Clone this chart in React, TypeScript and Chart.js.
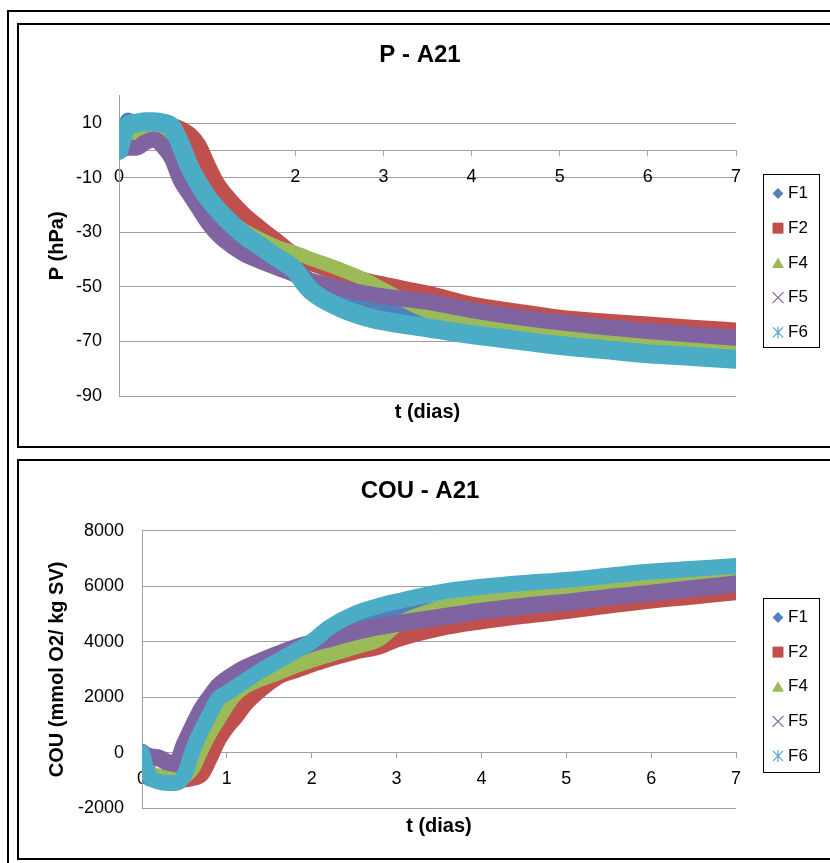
import React, { useEffect, useRef } from 'react';
import { Chart, registerables } from 'chart.js';

Chart.register(...registerables);

// ---------- data ----------
const SERIES_LABELS = ['F1', 'F2', 'F4', 'F5', 'F6'];
const X_TICKS = [0, 1, 2, 3, 4, 5, 6, 7];
const P_TICKS = [-90, -70, -50, -30, -10, 10];
const COU_TICKS = [-2000, 0, 2000, 4000, 6000, 8000];

const T_DAYS = [0, 0.05, 0.1, 0.2, 0.3, 0.4, 0.5, 0.6, 0.7, 0.8, 0.9, 1.0, 1.1, 1.2, 1.4, 1.6, 1.8, 2.0, 2.1, 2.2, 2.5, 2.8, 3.0, 3.5, 4.0, 4.5, 5.0, 5.5, 6.0, 6.5, 7.0];

const P_F1 = [0, 8, 11.5, 10, 10, 9.5, 8, 5, -1, -8, -13, -17, -21, -24, -30, -35, -39, -43, -45.5, -48, -52, -55, -57, -60.5, -63, -65.5, -67.3, -68.5, -69.5, -70.3, -71];
const P_F2 = [0, 7, 8.5, 9, 9.5, 9.5, 9.5, 9, 7.8, 5.8, 2, -5, -11.5, -16, -23, -28.5, -33.5, -38.5, -40, -41.5, -45, -47.8, -49.2, -52.5, -56.5, -59, -61.3, -62.7, -63.8, -65, -66];
const P_F4 = [0, 4, 6, 6.5, 6.5, 6.5, 6, 3, -3, -9, -14, -18, -21.5, -24.5, -29, -32.5, -35.5, -37.5, -38.8, -40, -43.5, -47.5, -51, -59, -63, -65.5, -68, -69.5, -71, -72, -73];
const P_F5 = [0, 0.5, 1, 1, 3, 4, 1.5, -3, -11, -16, -21, -26, -30, -33, -37.5, -40.5, -43, -45.5, -47, -48, -50.5, -52.5, -53.5, -55.5, -58.5, -61, -63, -64.7, -66.2, -67.5, -68.7];
const P_F6 = [0, 6, 9, 10, 10.5, 10.5, 10, 8.5, 2, -6, -12, -17, -21, -24.5, -30.5, -35, -39.5, -44, -48.5, -52, -57.5, -61, -62.5, -65, -67.5, -69.5, -71.5, -73, -74.5, -75.5, -76.5];

const COU_F1 = [0, -800, -1000, -1000, -1050, -1000, -900, -450, 300, 1000, 1600, 1950, 2250, 2500, 2850, 3150, 3450, 3700, 3900, 4100, 4500, 4800, 4950, 5250, 5480, 5650, 5800, 5950, 6100, 6230, 6350];
const COU_F2 = [0, -500, -800, -900, -950, -950, -950, -900, -750, -150, 500, 950, 1300, 1720, 2300, 2750, 2980, 3200, 3300, 3400, 3650, 3850, 4100, 4500, 4750, 4950, 5120, 5320, 5500, 5650, 5800];
const COU_F4 = [0, -450, -750, -850, -900, -900, -850, -550, 100, 700, 1200, 1700, 2100, 2350, 2650, 2870, 3120, 3330, 3430, 3520, 3800, 4100, 4600, 5200, 5450, 5650, 5850, 6000, 6150, 6300, 6450];
const COU_F5 = [0, -100, -150, -200, -350, -400, 300, 950, 1550, 2000, 2400, 2650, 2850, 3030, 3300, 3550, 3780, 3950, 4030, 4100, 4350, 4550, 4650, 4880, 5100, 5280, 5420, 5600, 5750, 5920, 6080];
const COU_F6 = [0, -600, -900, -1050, -1100, -1100, -800, 100, 800, 1400, 1950, 2150, 2350, 2550, 2950, 3300, 3650, 4000, 4250, 4500, 5000, 5300, 5450, 5780, 5980, 6120, 6230, 6380, 6530, 6630, 6730];

const P_SERIES = [P_F1, P_F2, P_F4, P_F5, P_F6];
const COU_SERIES = [COU_F1, COU_F2, COU_F4, COU_F5, COU_F6];

// ---------- styles ----------
const SERIES_COLORS = ['#4F81BD', '#C0504D', '#9BBB59', '#8064A2', '#4BACC6'];
const MARKERS = ['diamond', 'square', 'triangle', 'x', 'asterisk'];
const P_WIDTHS = [13, 16, 14, 16, 19];
const COU_WIDTHS = [13, 17, 15, 17, 16];
const GRID = '#a0a0a0';
const FONT = '"Liberation Sans", Arial, Helvetica, sans-serif';

function drawMarker(ctx: CanvasRenderingContext2D, kind: string, x: number, y: number, color: string) {
  ctx.save();
  ctx.fillStyle = color;
  ctx.strokeStyle = color;
  ctx.lineWidth = 1.2;
  ctx.beginPath();
  if (kind === 'diamond') {
    ctx.moveTo(x, y - 5.5); ctx.lineTo(x + 5.5, y); ctx.lineTo(x, y + 5.5); ctx.lineTo(x - 5.5, y); ctx.closePath(); ctx.fill();
  } else if (kind === 'square') {
    ctx.rect(x - 5.5, y - 5.5, 11, 11); ctx.fill();
  } else if (kind === 'triangle') {
    ctx.moveTo(x, y - 5.5); ctx.lineTo(x + 6, y + 5); ctx.lineTo(x - 6, y + 5); ctx.closePath(); ctx.fill();
  } else if (kind === 'x') {
    ctx.moveTo(x - 5.5, y - 5.5); ctx.lineTo(x + 5.5, y + 5.5); ctx.moveTo(x + 5.5, y - 5.5); ctx.lineTo(x - 5.5, y + 5.5); ctx.stroke();
  } else {
    ctx.moveTo(x - 5, y - 5); ctx.lineTo(x + 5, y + 5); ctx.moveTo(x + 5, y - 5); ctx.lineTo(x - 5, y + 5);
    ctx.moveTo(x, y - 6); ctx.lineTo(x, y + 6); ctx.stroke();
  }
  ctx.restore();
}

const boxLegend = {
  id: 'boxLegend',
  afterDraw(chart: any, _args: any, opts: any) {
    const ctx = chart.ctx as CanvasRenderingContext2D;
    ctx.save();
    ctx.fillStyle = '#ffffff';
    ctx.fillRect(opts.x, opts.y, opts.w, opts.h);
    ctx.strokeStyle = '#000000';
    ctx.lineWidth = 1;
    ctx.strokeRect(opts.x + 0.5, opts.y + 0.5, opts.w, opts.h);
    chart.data.datasets.forEach((ds: any, i: number) => {
      const cy = opts.first + i * opts.gap;
      drawMarker(ctx, MARKERS[i], opts.markerX, cy, SERIES_COLORS[i]);
      ctx.fillStyle = '#000000';
      ctx.font = '17px ' + FONT;
      ctx.textAlign = 'left';
      ctx.textBaseline = 'middle';
      ctx.fillText(ds.label, opts.textX, cy);
    });
    ctx.restore();
  },
};

function buildConfig(p: {
  series: number[][]; widths: number[]; ticks: number[]; min: number; max: number;
  title: string; yTitle: string; yWidth: number; titleBottom: number; xTitleH: number;
  padBottom: number; tickPad: number; legend: any;
}) {
  return {
    type: 'scatter',
    data: {
      datasets: SERIES_LABELS.map((label, i) => ({
        label,
        data: T_DAYS.map((t, k) => ({ x: t, y: p.series[i][k] })),
        // later series are painted over earlier ones (as in the original)
        order: SERIES_LABELS.length - i,
        borderColor: SERIES_COLORS[i],
        backgroundColor: SERIES_COLORS[i],
        borderWidth: p.widths[i],
        showLine: true,
        pointRadius: 0,
        pointHoverRadius: 0,
        fill: false,
        cubicInterpolationMode: 'monotone',
        borderCapStyle: 'round',
        borderJoinStyle: 'round',
        xAxisID: 'x',
        yAxisID: 'y',
      })),
    },
    options: {
      animation: false,
      responsive: false,
      events: [],
      layout: { padding: { left: 0, right: 9, top: 0, bottom: p.padBottom } },
      plugins: {
        legend: { display: false },
        tooltip: { enabled: false },
        title: {
          display: true,
          text: p.title,
          color: '#000',
          font: { family: FONT, size: 24, weight: 'bold' },
          padding: { top: 16, bottom: p.titleBottom },
        },
        boxLegend: p.legend,
      },
      scales: {
        x: {
          type: 'linear',
          position: { y: 0 },
          min: 0,
          max: 7,
          afterBuildTicks: (s: any) => { s.ticks = X_TICKS.map((v) => ({ value: v })); },
          grid: { display: true, drawOnChartArea: false, drawTicks: true, tickLength: 5, color: GRID },
          border: { display: true, color: GRID, width: 1 },
          ticks: { color: '#000', font: { family: FONT, size: 18 }, padding: 11, maxRotation: 0, autoSkip: false, callback: (v: any) => String(v) },
        },
        xTitle: {
          type: 'linear',
          axis: 'x',
          position: 'bottom',
          min: 0,
          max: 7,
          grid: { display: false },
          border: { display: false },
          ticks: { display: false },
          title: { display: true, text: 't (dias)', color: '#000', font: { family: FONT, size: 20, weight: 'bold' }, padding: 0 },
          afterFit: (s: any) => { s.height = p.xTitleH; },
        },
        y: {
          type: 'linear',
          position: 'left',
          min: p.min,
          max: p.max,
          afterBuildTicks: (s: any) => { s.ticks = p.ticks.map((v) => ({ value: v })); },
          grid: { color: GRID, drawTicks: false },
          border: { display: true, color: GRID, width: 1 },
          ticks: { color: '#000', font: { family: FONT, size: 18 }, padding: p.tickPad, callback: (v: any) => String(v) },
          title: { display: true, text: p.yTitle, color: '#000', font: { family: FONT, size: 20, weight: 'bold' }, padding: { top: 26, bottom: 0 } },
          afterFit: (s: any) => { s.width = p.yWidth; },
        },
        yPad: {
          type: 'linear',
          axis: 'y',
          position: 'right',
          grid: { display: false },
          border: { display: false },
          ticks: { display: false },
          afterFit: (s: any) => { s.width = 85; },
        },
      },
    },
    plugins: [boxLegend],
  } as any;
}

export default function App() {
  const topRef = useRef<HTMLCanvasElement | null>(null);
  const botRef = useRef<HTMLCanvasElement | null>(null);

  useEffect(() => {
    if (!topRef.current || !botRef.current) return;
    const c1 = new Chart(topRef.current, buildConfig({
      series: P_SERIES, widths: P_WIDTHS, ticks: P_TICKS, min: -90, max: 20,
      title: 'P - A21', yTitle: 'P (hPa)', yWidth: 100, titleBottom: 26, xTitleH: 28, padBottom: 22, tickPad: 17,
      legend: { x: 744, y: 149, w: 56, h: 173, first: 168.4, gap: 34.75, markerX: 759, textX: 769 },
    }));
    const c2 = new Chart(botRef.current, buildConfig({
      series: COU_SERIES, widths: COU_WIDTHS, ticks: COU_TICKS, min: -2000, max: 8000,
      title: 'COU - A21', yTitle: 'COU (mmol O2/ kg SV)', yWidth: 123, titleBottom: 25, xTitleH: 30, padBottom: 20, tickPad: 18,
      legend: { x: 744, y: 137, w: 56, h: 174, first: 156.5, gap: 34.6, markerX: 759, textX: 769 },
    }));
    return () => { c1.destroy(); c2.destroy(); };
  }, []);

  const frame = (left: number, top: number, width: number, height: number): React.CSSProperties => ({
    position: 'absolute', left, top, width, height, border: '2px solid #000', boxSizing: 'border-box',
  });

  return (
    <div style={{ position: 'fixed', left: 0, top: 0, width: 830, height: 863, overflow: 'hidden', background: '#fff' }}>
      <div style={frame(7, 10, 900, 900)} />
      <div style={frame(17, 23, 900, 425)} />
      <div style={frame(17, 459, 900, 401)} />
      <canvas ref={topRef} width={811} height={421} style={{ position: 'absolute', left: 19, top: 25, width: 811, height: 421 }} />
      <canvas ref={botRef} width={811} height={397} style={{ position: 'absolute', left: 19, top: 461, width: 811, height: 397 }} />
    </div>
  );
}
